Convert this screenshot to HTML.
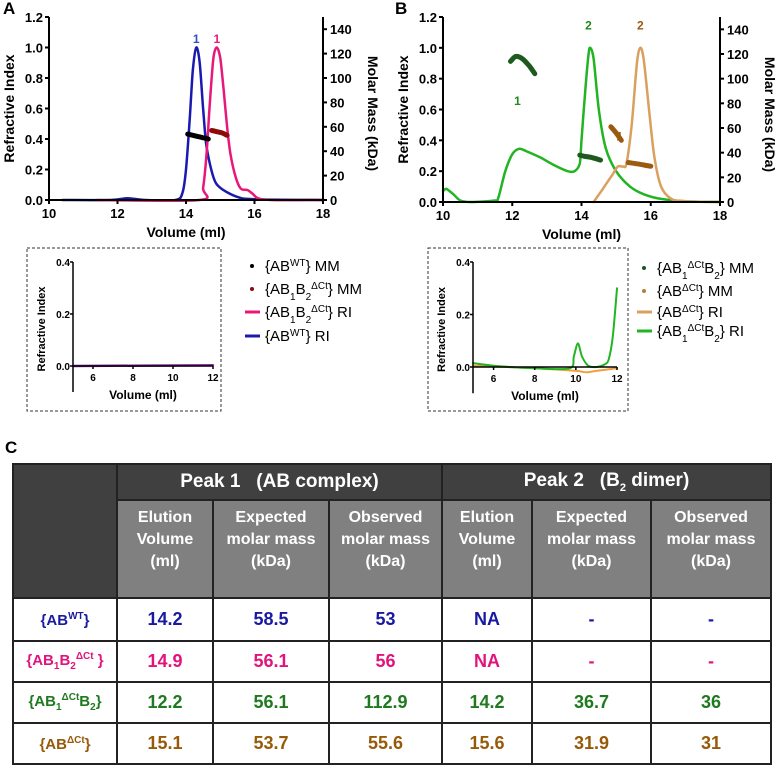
<!DOCTYPE html>
<html><head><meta charset="utf-8">
<style>
body{margin:0;background:#fff;width:775px;height:763px;position:relative;overflow:hidden;font-family:"Liberation Sans",Arial,sans-serif}
svg{position:absolute;left:0;top:0}
table{position:absolute;left:12px;top:463px;width:760px;border-collapse:collapse;table-layout:fixed;font-family:"Liberation Sans Narrow","Liberation Sans",sans-serif;font-weight:bold;text-align:center}
td{border:2px solid #222;padding:0}
.h1{background:#404040;color:#fff;font-size:19px;height:34px}
.h2{background:#808080;color:#fff;font-size:16px;line-height:22px;height:90px;vertical-align:top;padding-top:6px}
.r td{font-size:18px;height:39px}
.b{color:#1a1aa0}.p{color:#e0147c}.g{color:#1f7a1f}.o{color:#965a08}
.lab{position:absolute;font-weight:bold;font-size:17px}
</style></head><body>
<div class="lab" style="left:3px;top:-1px">A</div>
<div class="lab" style="left:395px;top:-1px">B</div>
<div class="lab" style="left:5px;top:438px;font-family:'Liberation Sans Narrow','Liberation Sans',sans-serif">C</div>
<svg id="s" width="775" height="460"></svg>
<table>
<colgroup><col style="width:104px"><col style="width:96px"><col style="width:116px"><col style="width:113px"><col style="width:90px"><col style="width:119px"><col></colgroup>
<tr><td class="h1" rowspan="2" style="background:#404040"></td>
<td class="h1" colspan="3">Peak 1 &nbsp; (AB complex)</td>
<td class="h1" colspan="3">Peak 2 &nbsp; (B<sub style="font-size:11px">2</sub> dimer)</td></tr>
<tr><td class="h2">Elution<br>Volume<br>(ml)</td><td class="h2">Expected<br>molar mass<br>(kDa)</td><td class="h2">Observed<br>molar mass<br>(kDa)</td><td class="h2">Elution<br>Volume<br>(ml)</td><td class="h2">Expected<br>molar mass<br>(kDa)</td><td class="h2">Observed<br>molar mass<br>(kDa)</td></tr>
<tr class="r b"><td style="font-size:15px;height:41px">{AB<sup style="font-size:10px">WT</sup>}</td><td>14.2</td><td>58.5</td><td>53</td><td>NA</td><td>-</td><td>-</td></tr>
<tr class="r p"><td style="font-size:15px">{AB<sub style="font-size:10px">1</sub>B<sub style="font-size:10px">2</sub><sup style="font-size:10px">ΔCt</sup> }</td><td>14.9</td><td>56.1</td><td>56</td><td>NA</td><td>-</td><td>-</td></tr>
<tr class="r g"><td style="font-size:15px">{AB<sub style="font-size:10px">1</sub><sup style="font-size:10px">ΔCt</sup>B<sub style="font-size:10px">2</sub>}</td><td>12.2</td><td>56.1</td><td>112.9</td><td>14.2</td><td>36.7</td><td>36</td></tr>
<tr class="r o"><td style="font-size:15px">{AB<sup style="font-size:10px">ΔCt</sup>}</td><td>15.1</td><td>53.7</td><td>55.6</td><td>15.6</td><td>31.9</td><td>31</td></tr>
</table>
<script>
// ---- data ----
const aBlueX=[10.4,11.8,12.3,12.8,13.7,13.9,14.0,14.1,14.2,14.3,14.4,14.5,14.6,14.8,15.0,15.5,16.0,18];
const aBlueY=[0,0,0.012,0,0,0.05,0.2,0.5,0.85,1.0,0.9,0.6,0.35,0.15,0.08,0.02,0.005,0];
const aPinkX=[11.4,14.4,14.5,14.6,14.7,14.8,14.9,15.0,15.1,15.2,15.3,15.45,15.6,15.8,15.95,16.1,16.5,18];
const aPinkY=[0,0,0.08,0.3,0.65,0.93,1.0,0.93,0.72,0.48,0.3,0.15,0.075,0.065,0.04,0.012,0,0];
const aMM1X=[14.05,14.2,14.35,14.5,14.65];const aMM1Y=[54,53,52,51,50];
const aMM2X=[14.75,14.9,15.05,15.2];const aMM2Y=[57,56,55,53];
const bGreenX=[10,10.1,10.3,10.5,10.8,11.5,11.6,11.8,12.0,12.2,12.4,12.8,13.2,13.6,13.8,13.95,14.0,14.1,14.2,14.25,14.35,14.5,14.7,15.0,15.4,15.8,16.3,17,18];
const bGreenY=[0.07,0.085,0.05,0.01,0,0.01,0.03,0.2,0.31,0.345,0.33,0.29,0.24,0.2,0.2,0.25,0.4,0.7,0.95,1.0,0.93,0.6,0.35,0.2,0.1,0.05,0.02,0.005,0];
const bTanX=[14.35,14.6,14.9,15.05,15.2,15.3,15.45,15.6,15.7,15.8,15.95,16.1,16.3,16.6,17,18];
const bTanY=[0,0.08,0.18,0.23,0.23,0.25,0.5,0.9,1.0,0.92,0.6,0.3,0.1,0.02,0.005,0];
const bMM1aX=[11.95,12.1,12.3,12.5,12.65];const bMM1aY=[114,118,116,110,104];
const bMM1bX=[13.95,14.1,14.3,14.55];const bMM1bY=[38,37,36,34];
const bMM2aX=[14.85,15.0,15.15];const bMM2aY=[61,56,50];
const bMM2bX=[15.35,15.6,15.8,16.0];const bMM2bY=[32,31,30,29];
const iaX=[5,12];const iaY=[0,0.003];
const ibGreenX=[5,6,8,9.7,9.9,10.1,10.3,10.6,11,11.4,11.6,11.8,12];
const ibGreenY=[0.015,0.005,-0.005,-0.005,0.04,0.09,0.04,0.005,0,0.01,0.03,0.12,0.3];
const ibTanX=[5,8,10,10.5,11,12];const ibTanY=[0.005,-0.005,-0.015,-0.02,-0.015,-0.005];
const riTicks=[0,0.2,0.4,0.6,0.8,1.0,1.2];const mmTicks=[0,20,40,60,80,100,120,140];const volTicks=[10,12,14,16,18];
const inRiTicks=[0,0.2,0.4];const inVolTicks=[6,8,10,12];

const S=document.getElementById('s');const NS='http://www.w3.org/2000/svg';
function el(t,a,txt){const e=document.createElementNS(NS,t);for(const k in a)e.setAttribute(k,a[k]);if(txt!==undefined)e.textContent=txt;S.appendChild(e);return e;}
function line(x1,y1,x2,y2,w){return el('line',{x1,y1,x2,y2,stroke:'#000','stroke-width':w||2});}
function txt(x,y,s,o){return el('text',Object.assign({x,y,'font-size':13,'font-weight':'bold','font-family':'Liberation Sans, sans-serif'},o||{}),s);}
function smooth(pts){let d='M'+pts[0][0].toFixed(1)+','+pts[0][1].toFixed(1);
 for(let i=0;i<pts.length-1;i++){const p0=pts[i-1]||pts[i],p1=pts[i],p2=pts[i+1],p3=pts[i+2]||p2;const k=1/6*0.9;
  const c1=[p1[0]+(p2[0]-p0[0])*k,p1[1]+(p2[1]-p0[1])*k],c2=[p2[0]-(p3[0]-p1[0])*k,p2[1]-(p3[1]-p1[1])*k];
  d+='C'+c1.map(v=>v.toFixed(1))+' '+c2.map(v=>v.toFixed(1))+' '+p2[0].toFixed(1)+','+p2[1].toFixed(1);}return d;}
function path(xs,ys,fx,fy,col,w,name){const pts=xs.map((v,i)=>[fx(v),fy(ys[i])]);
 const p=el('path',{d:smooth(pts),fill:'none',stroke:col,'stroke-width':w,'stroke-linejoin':'round','stroke-linecap':'round'});
 
 return p;}
function mainChart(x0,x1,y0,y1,series,labels){
 const fx=v=>x0+(v-10)/8*(x1-x0);const fy=v=>y0-v/1.2*(y0-y1);const fm=v=>fy(v/125);
 series(fx,fy,fm);
 line(x0,y1,x0,y0+1);line(x0,y0,x1,y0);line(x1,y1,x1,y0+1);
 riTicks.forEach(t=>{line(x0-4,fy(t),x0,fy(t));txt(x0-6,fy(t)+5,t.toFixed(1),{'text-anchor':'end'});});
 mmTicks.forEach(t=>{line(x1,fm(t),x1+4,fm(t));txt(x1+7,fm(t)+5,t);});
 volTicks.forEach(t=>{line(fx(t),y0,fx(t),y0+4);txt(fx(t),y0+18,t,{'text-anchor':'middle'});});
 txt((x0+x1)/2,y0+37,'Volume (ml)',{'text-anchor':'middle','font-size':14});
 txt(0,0,'Refractive Index',{'text-anchor':'middle','font-size':14,transform:`translate(${x0-35},${(y0+y1)/2}) rotate(-90)`});
 txt(0,0,'Molar Mass (kDa)',{'text-anchor':'middle','font-size':14,transform:`translate(${x1+45},${(y0+y1)/2+5}) rotate(90)`});
 labels(fx,fy);
}
mainChart(49,323,200,17,(fx,fy,fm)=>{
 path(aBlueX,aBlueY,fx,fy,'#1a1ab0',2.5,'ri-ab-wt');path(aPinkX,aPinkY,fx,fy,'#e8187a',2.5,'ri-ab1b2-dct');
 path(aMM1X,aMM1Y,fx,fm,'#000',5,'mm-ab-wt');path(aMM2X,aMM2Y,fx,fm,'#8b0a0a',5,'mm-ab1b2-dct');
},(fx,fy)=>{txt(fx(14.3),fy(1.03),'1',{'text-anchor':'middle',fill:'#3050c8',"font-size":12});txt(fx(14.9),fy(1.03),'1',{'text-anchor':'middle',fill:'#e8187a',"font-size":12});});
mainChart(443,720,202,17,(fx,fy,fm)=>{
 path(bGreenX,bGreenY,fx,fy,'#22b422',2.5,'ri-ab1dct-b2');path(bTanX,bTanY,fx,fy,'#d9a060',2.5,'ri-ab-dct');
 path(bMM1aX,bMM1aY,fx,fm,'#1e5a1e',5,'mm-ab1dct-b2-peak1');path(bMM1bX,bMM1bY,fx,fm,'#1e5a1e',5,'mm-ab1dct-b2-peak2');
 path(bMM2aX,bMM2aY,fx,fm,'#9a5a10',5,'mm-ab-dct-peak1');path(bMM2bX,bMM2bY,fx,fm,'#9a5a10',5,'mm-ab-dct-peak2');
},(fx,fy)=>{txt(fx(14.2),fy(1.12),'2',{'text-anchor':'middle',fill:'#1f8a1f','font-size':12});txt(fx(12.15),fy(0.63),'1',{'text-anchor':'middle',fill:'#1f8a1f','font-size':12});
 txt(fx(15.7),fy(1.12),'2',{'text-anchor':'middle',fill:'#9a5a10','font-size':12});txt(fx(15.1),fy(0.4),'1',{'text-anchor':'middle',fill:'#9a5a10','font-size':12});});
function inset(bx0,bx1,by0,by1,x0,x1,y0,y4,draw){
 el('rect',{x:bx0,y:by0,width:bx1-bx0,height:by1-by0,fill:'none',stroke:'#333','stroke-width':1,'stroke-dasharray':'3,2'});
 const fx=v=>x0+(v-5)/7*(x1-x0);const fy=v=>y0-v/0.4*(y0-y4);
 draw(fx,fy);
 line(x0,y4,x0,fy(-0.1),1.5);line(x0,y0,x1,y0,1.5);
 inRiTicks.forEach(t=>{line(x0-3,fy(t),x0,fy(t),1.5);txt(x0-3,fy(t)+4,t.toFixed(1),{'text-anchor':'end','font-size':10});});
 inVolTicks.forEach(t=>{line(fx(t),y0,fx(t),y0+3,1.5);txt(fx(t),y0+15,t,{'text-anchor':'middle','font-size':10});});
 txt((x0+x1)/2,y0+33,'Volume (ml)',{'text-anchor':'middle','font-size':12});
 txt(0,0,'Refractive Index',{'text-anchor':'middle','font-size':11,transform:`translate(${x0-28},${(y0+y4)/2+15}) rotate(-90)`});
}
inset(27,221,248,411,73,213,366,262,(fx,fy)=>{path(iaX,iaY,fx,fy,'#8a2aa8',2.5,'inset-a-ri');});
inset(428,628,248,411,473,617,367,262,(fx,fy)=>{path(ibTanX,ibTanY,fx,fy,'#f0a040',2,'inset-b-ri-ab-dct');path(ibGreenX,ibGreenY,fx,fy,'#22b422',2,'inset-b-ri-ab1dct-b2');});
function legend(x,rows){rows.forEach((r,i)=>{const y=r[3];
 if(r[0]==='dot')el('circle',{cx:x+7,cy:y-5,r:2,fill:r[1]});else el('line',{x1:x,y1:y-5,x2:x+15,y2:y-5,stroke:r[1],'stroke-width':3});
 const t=el('text',{x:x+20,y,'font-size':15,'font-family':'Liberation Sans, sans-serif'});t.innerHTML=r[2];
 
 });}
const sp=s=>`<tspan baseline-shift="super" font-size="10">${s}</tspan>`;const sb=s=>`<tspan baseline-shift="sub" font-size="10">${s}</tspan>`;
legend(245,[['dot','#000','{AB'+sp('WT')+'} MM',271],
 ['dot','#8b0a0a','{AB'+sb('1')+'B'+sb('2')+sp('ΔCt')+'} MM',294],
 ['line','#e8187a','{AB'+sb('1')+'B'+sb('2')+sp('ΔCt')+'} RI',317],
 ['line','#1a1ab0','{AB'+sp('WT')+'} RI',341]]);
legend(637,[['dot','#1e5a1e','{AB'+sb('1')+sp('ΔCt')+'B'+sb('2')+'} MM',273],
 ['dot','#b08040','{AB'+sp('ΔCt')+'} MM',296],
 ['line','#d9a060','{AB'+sp('ΔCt')+'} RI',317],
 ['line','#22b422','{AB'+sb('1')+sp('ΔCt')+'B'+sb('2')+'} RI',336]]);
</script>
</body></html>
